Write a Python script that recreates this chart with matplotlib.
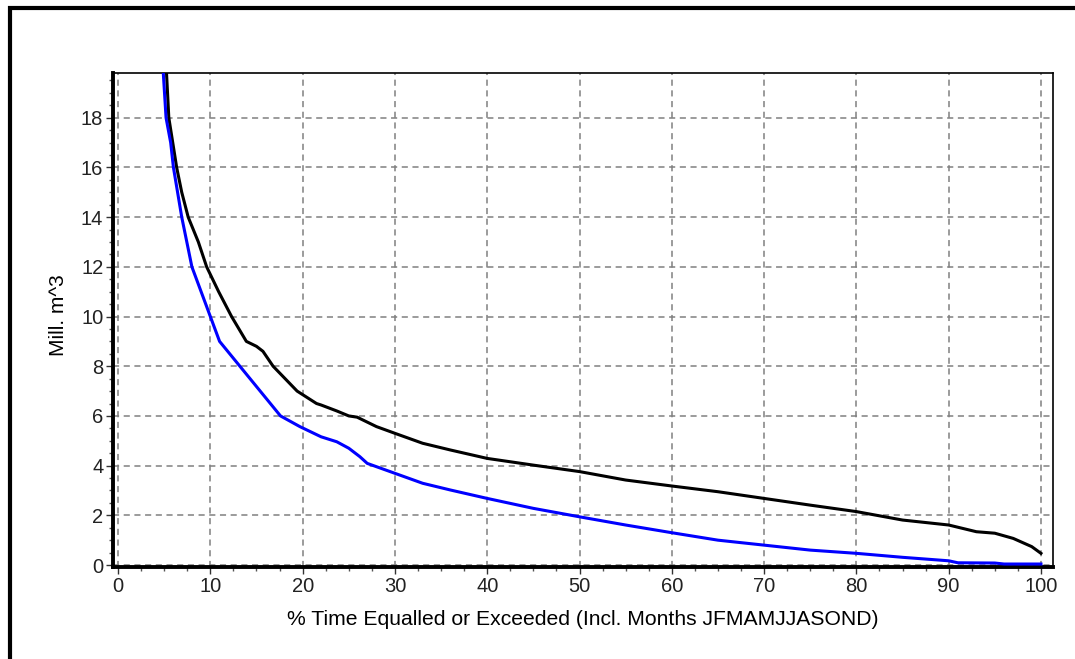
import matplotlib
matplotlib.use("Agg")
import matplotlib.pyplot as plt
from matplotlib.patches import Rectangle
from matplotlib.ticker import MultipleLocator

plt.rcParams['font.family'] = ['Liberation Sans', 'DejaVu Sans']

# flow duration curves
black_x = [5.25, 5.5, 6.35, 6.9, 7.6, 8.7, 9.6, 10.9, 12.3, 13.9, 15.0, 15.7, 16.8, 19.4, 21.5, 22.0,
           23.7, 25.0, 25.9, 28.0, 30.0, 33.0, 36.0, 40.0, 45.0, 50.0, 55.0, 60.0, 65.0, 70.0, 75.0,
           80.0, 85.0, 90.0, 93.0, 95.0, 97.0, 99.0, 100.0]
black_y = [19.8, 18.0, 16.0, 15.0, 14.0, 13.0, 12.0, 11.0, 10.0, 9.0, 8.8, 8.6, 8.0, 7.0, 6.5, 6.44,
           6.2, 6.0, 5.95, 5.57, 5.3, 4.9, 4.63, 4.29, 4.02, 3.76, 3.42, 3.18, 2.95, 2.68, 2.41,
           2.15, 1.81, 1.61, 1.34, 1.28, 1.07, 0.74, 0.47]

blue_x = [4.9, 5.2, 5.7, 6.0, 6.9, 8.0, 10.0, 11.0, 13.2, 15.4, 17.6, 19.7, 22.0, 23.7, 25.0, 26.2,
          27.0, 30.0, 33.0, 36.0, 40.0, 45.0, 50.0, 55.0, 60.0, 65.0, 70.0, 75.0, 80.0, 85.0, 90.0,
          91.0, 95.0, 96.0, 100.0]
blue_y = [19.8, 18.0, 17.0, 16.0, 14.0, 12.0, 10.0, 9.0, 8.0, 7.0, 6.0, 5.57, 5.16, 4.96, 4.70, 4.36,
          4.09, 3.69, 3.29, 3.02, 2.68, 2.28, 1.94, 1.61, 1.30, 1.0, 0.80, 0.60, 0.47, 0.31, 0.17,
          0.09, 0.08, 0.04, 0.04]

fig = plt.figure(figsize=(10.75, 6.59), dpi=100)
ax = fig.add_axes([0.1051, 0.1396, 0.8744, 0.7496])

# outer frame
fig.patches.append(Rectangle((10 / 1075, -0.1), 1.2, 1.1 - 8 / 659, transform=fig.transFigure,
                             fill=False, edgecolor='black', linewidth=3.0))

ax.plot(black_x, black_y, color='black', linewidth=2.2, zorder=3)
ax.plot(blue_x, blue_y, color='#0000ff', linewidth=2.2, zorder=3)

ax.set_xlim(-0.55, 101.3)
ax.set_ylim(-0.08, 19.8)
ax.xaxis.set_major_locator(MultipleLocator(10))
ax.xaxis.set_minor_locator(MultipleLocator(2.5))
ax.yaxis.set_major_locator(MultipleLocator(2))
ax.yaxis.set_minor_locator(MultipleLocator(0.5))

ax.grid(True, which='major', color='#808080', linestyle=(0, (4, 3)), linewidth=1.1)
ax.set_axisbelow(True)

ax.spines['left'].set_linewidth(2.8)
ax.spines['bottom'].set_linewidth(2.8)
ax.spines['top'].set_linewidth(1.2)
ax.spines['right'].set_linewidth(1.2)

ax.tick_params(which='major', direction='out', length=5, width=1, labelsize=14.5, colors='#333333',
               labelcolor='#222222', pad=2)
ax.tick_params(which='minor', direction='out', length=3, width=1, colors='#555555')

ax.set_xlabel('% Time Equalled or Exceeded (Incl. Months JFMAMJJASOND)', fontsize=15.2)
ax.set_ylabel('Mill. m^3', fontsize=15)
ax.xaxis.set_label_coords(0.5, -0.088)
ax.yaxis.set_label_coords(-0.048, 0.51)

fig.savefig('out.png', dpi=100)
